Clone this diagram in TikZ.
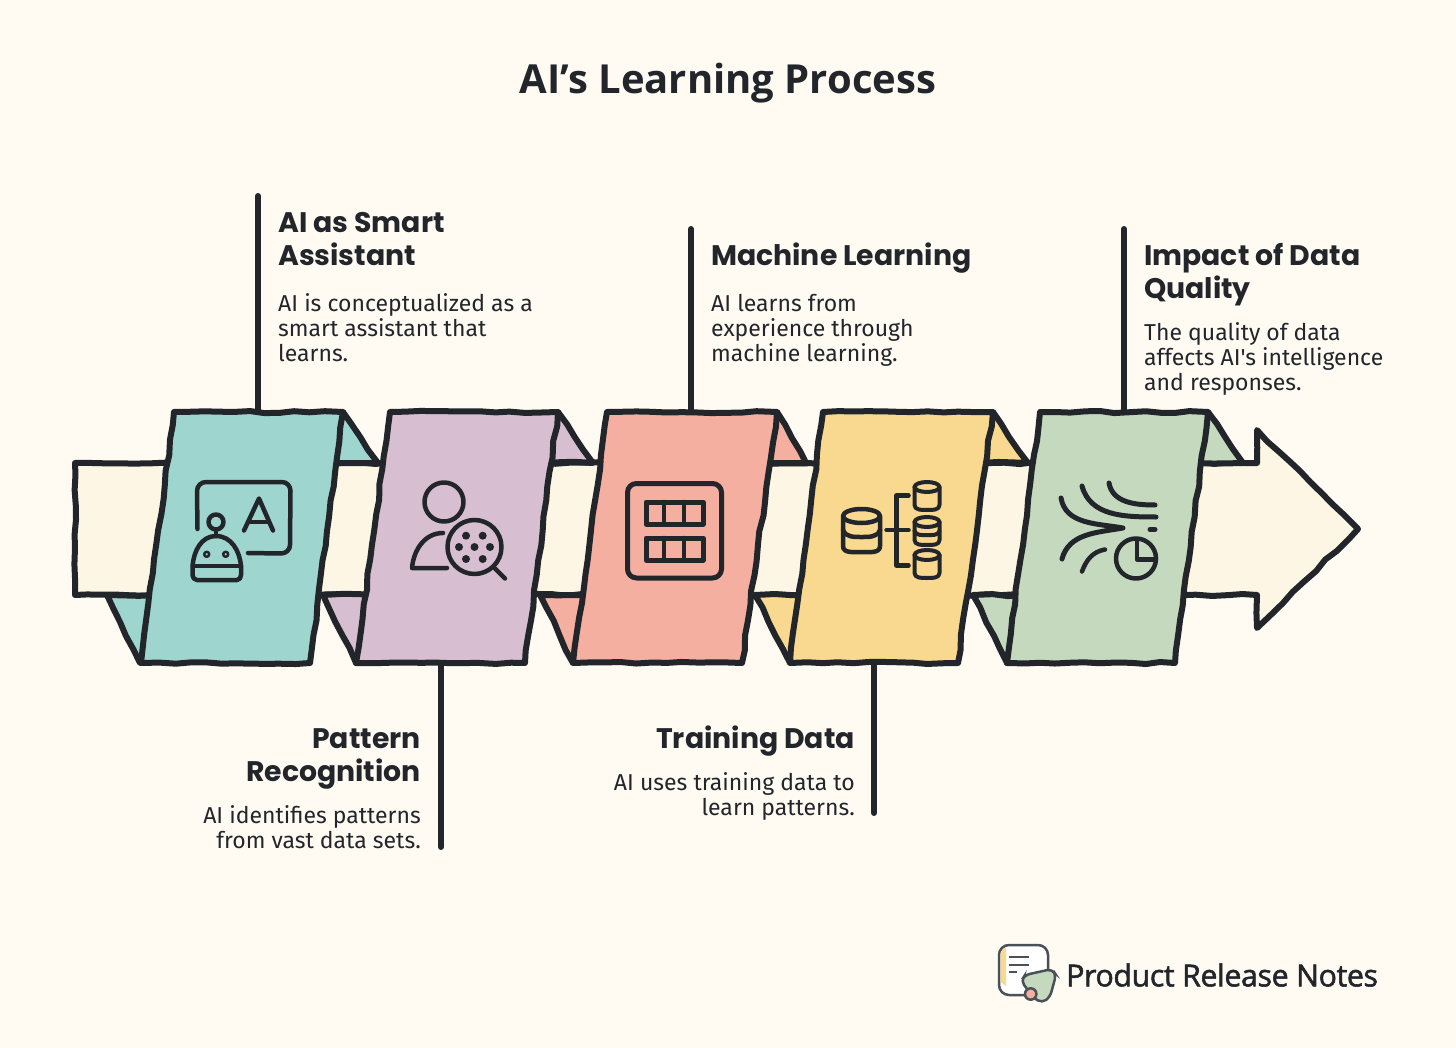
\documentclass[tikz,border=0pt]{standalone}
\usepackage{fontspec}
\setmainfont{Open Sans}
\newfontfamily\headfont{Poppins}
\newfontfamily\notefont{Fira Sans}
\newfontfamily\brandfont[FakeBold=1.8,LetterSpace=-1.2]{Open Sans}
\usetikzlibrary{decorations.pathmorphing}
\definecolor{inkdark}{HTML}{22262B}
\definecolor{paper}{HTML}{FFFBF3}
\definecolor{bandcream}{HTML}{FDF6E5}
\definecolor{panelteal}{HTML}{9FD5CF}
\definecolor{panellilac}{HTML}{D7BFD1}
\definecolor{panelsalmon}{HTML}{F4AFA0}
\definecolor{panelyellow}{HTML}{F9D98F}
\definecolor{panelgreen}{HTML}{C5D9BF}
\definecolor{logoink}{HTML}{4A5058}
\tikzset{
  rough/.style={draw=inkdark, line width=6pt, line join=round, line cap=round, decorate,
    decoration={random steps, segment length=15pt, amplitude=1.1pt}},
  stem/.style={draw=inkdark, line width=6pt, line cap=round},
  glyph/.style={draw=inkdark, line width=4.5pt, line cap=round, line join=round},
  heading/.style={inner sep=0pt, text=inkdark, font=\headfont\bfseries\fontsize{28.3}{33}\selectfont},
  note/.style={inner sep=0pt, text=inkdark, font=\notefont\fontsize{23}{25}\selectfont},
}
\begin{document}
\begin{tikzpicture}[x=1pt, y=-1pt]
  \pgfmathsetseed{11}
  \useasboundingbox (0,0) rectangle (1456,1048);
  \fill[paper] (0,0) rectangle (1456,1048);
  \node[inner sep=0pt, text=inkdark, font=\bfseries\fontsize{40}{48}\selectfont] (title) at (728,83) {AI’s Learning Process};

  % stems behind the band
  \coordinate (stemAtop) at (258,196);
  \coordinate (stemAend) at (258,412);
  \coordinate (stemBtop) at (441,662);
  \coordinate (stemBend) at (441,847);
  \coordinate (stemCtop) at (691,229);
  \coordinate (stemCend) at (691,412);
  \coordinate (stemDtop) at (874,662);
  \coordinate (stemDend) at (874,813);
  \coordinate (stemEtop) at (1124,229);
  \coordinate (stemEend) at (1124,412);
  \draw[stem] (stemAtop) -- (stemAend);
  \draw[stem] (stemBtop) -- (stemBend);
  \draw[stem] (stemCtop) -- (stemCend);
  \draw[stem] (stemDtop) -- (stemDend);
  \draw[stem] (stemEtop) -- (stemEend);

  % band with arrow head
  \path[rough, fill=bandcream] (75,463) -- (1257,463) -- (1257,430) -- (1358,529) -- (1257,628) -- (1257,595) -- (75,595) -- cycle;

  % folds
  \path[rough, fill=panelteal] (343,412) -- (378,463) -- (330,463) -- cycle;
  \path[rough, fill=panelteal] (107,595) -- (140,663) -- (155,595) -- cycle;
  \path[rough, fill=panellilac] (558,412) -- (593,463) -- (545,463) -- cycle;
  \path[rough, fill=panellilac] (323,595) -- (356,663) -- (372,595) -- cycle;
  \path[rough, fill=panelsalmon] (777,412) -- (806,463) -- (764,463) -- cycle;
  \path[rough, fill=panelsalmon] (540,595) -- (573,663) -- (588,595) -- cycle;
  \path[rough, fill=panelyellow] (993,412) -- (1028,463) -- (980,463) -- cycle;
  \path[rough, fill=panelyellow] (755,595) -- (790,663) -- (805,595) -- cycle;
  \path[rough, fill=panelgreen] (1208,412) -- (1243,463) -- (1195,463) -- cycle;
  \path[rough, fill=panelgreen] (973,595) -- (1007,663) -- (1022,595) -- cycle;

  % panels
  \path[rough, fill=panelteal] (174,412) -- (343,412) -- (310,663) -- (141,663) -- cycle;
  \path[rough, fill=panellilac] (390,412) -- (558,412) -- (525,663) -- (356,663) -- cycle;
  \path[rough, fill=panelsalmon] (607,412) -- (777,412) -- (742,663) -- (573,663) -- cycle;
  \path[rough, fill=panelyellow] (823,412) -- (993,412) -- (958,663) -- (790,663) -- cycle;
  \path[rough, fill=panelgreen] (1040,412) -- (1208,412) -- (1175,663) -- (1007,663) -- cycle;

  % robot and board
  \draw[glyph] (197.5,529) -- (197,491) to[out=90, in=180] (206,482) -- (282,482) to[out=0, in=90] (290.5,491) -- (290,545) to[out=-90, in=0] (281,553.5) -- (248,553);
  \draw[glyph] (244,530.5) -- (259,498.5) -- (273,530.5);
  \draw[glyph] (248,522) -- (269,522);
  \draw[glyph] (216,522) circle (7.5);
  \draw[glyph] (216,530) -- (216,536);
  \draw[glyph] (192.5,566) to[out=85, in=180] (216,536) to[out=0, in=95] (241,566) -- (241,575) to[out=-90, in=0] (237,580) -- (197,580) to[out=180, in=-90] (192.5,575) -- cycle;
  \draw[glyph] (193,566) -- (241,566);
  \draw[glyph, line width=2.5pt] (206.7,554.3) circle (2.5);
  \draw[glyph, line width=2.5pt] (225.7,554.3) circle (2.5);

  % person with lens
  \draw[glyph] (444,502) circle (19.5);
  \draw[glyph] (443,533) to[out=180, in=85] (412,568) -- (447,568);
  \draw[glyph] (474.5,547) circle (27);
  \draw[glyph] (495,568.5) -- (505,578.5);
  \fill[inkdark] (466,535.7) circle (4);
  \fill[inkdark] (482.7,535.7) circle (4);
  \fill[inkdark] (459,547) circle (4);
  \fill[inkdark] (474.5,547) circle (4);
  \fill[inkdark] (490,547) circle (4);
  \fill[inkdark] (466,559) circle (4);
  \fill[inkdark] (482.7,559) circle (4);

  % table
  \draw[glyph, line width=5pt, rounded corners=9pt] (627.5,483.5) rectangle (721.5,578);
  \draw[glyph, line width=5pt] (646,502) rectangle (703,524);
  \draw[glyph, line width=5pt] (646,538) rectangle (703,560);
  \draw[glyph] (664,502) -- (664,524);
  \draw[glyph] (684,502) -- (684,524);
  \draw[glyph] (664,538) -- (664,560);
  \draw[glyph] (684,538) -- (684,560);

  % database split
  \draw[glyph] (861.5,516) ellipse (18.5 and 7);
  \draw[glyph] (843,516) -- (843,546) to[out=-90, in=180] (861.5,552) to[out=0, in=-90] (880,546) -- (880,516);
  \draw[glyph] (843,530) to[out=-70, in=180] (861.5,537) to[out=0, in=-110] (880,530);
  \draw[glyph] (908.5,495.5) -- (896.5,495.5) -- (896.5,565.5) -- (908.5,565.5);
  \draw[glyph] (886.5,530) -- (908.5,530);
  \draw[glyph, line width=4pt] (927,487) ellipse (12.5 and 5);
  \draw[glyph, line width=4pt] (914.5,487) -- (914.5,505) to[out=-90, in=180] (927,510) to[out=0, in=-90] (939.5,505) -- (939.5,487);
  \draw[glyph, line width=4pt] (927,522) ellipse (12.5 and 5);
  \draw[glyph, line width=4pt] (914.5,522) -- (914.5,540) to[out=-90, in=180] (927,545) to[out=0, in=-90] (939.5,540) -- (939.5,522);
  \draw[glyph, line width=4pt] (914.5,531) to[out=-70, in=180] (927,535) to[out=0, in=-110] (939.5,531);
  \draw[glyph, line width=4pt] (927,555) ellipse (12.5 and 5);
  \draw[glyph, line width=4pt] (914.5,555) -- (914.5,573) to[out=-90, in=180] (927,578) to[out=0, in=-90] (939.5,573) -- (939.5,555);

  % streams and pie
  \draw[glyph, line width=5pt] (1061,498) to[out=-80, in=170] (1123,528) to[out=190, in=75] (1062,559);
  \draw[glyph, line width=5pt] (1082,486) to[out=-75, in=180] (1156,517);
  \draw[glyph, line width=5pt] (1109,483) to[out=-80, in=180] (1155,505);
  \draw[glyph, line width=5pt] (1150,529.5) -- (1155,529.5);
  \draw[glyph] (1105,549.5) to[out=190, in=70] (1082,571.5);
  \draw[glyph] (1136,558.5) circle (20);
  \draw[glyph] (1137,540) -- (1137,559.5) -- (1155,559.5);

  % labels
  \node[heading, anchor=north west, align=left] (headA) at (278,212) {AI as Smart\\Assistant};
  \node[note, anchor=north west, align=left] (noteA) at (278,293) {AI is conceptualized as a\\smart assistant that\\learns.};
  \node[heading, anchor=north east, align=right] (headB) at (421,728) {Pattern\\Recognition};
  \node[note, anchor=north east, align=right] (noteB) at (421,805) {AI identifies patterns\\from vast data sets.};
  \node[heading, anchor=north west, align=left] (headC) at (711,243) {Machine Learning};
  \node[note, anchor=north west, align=left] (noteC) at (711,294) {AI learns from\\experience through\\machine learning.};
  \node[heading, anchor=north east, align=right] (headD) at (855,726) {Training Data};
  \node[note, anchor=north east, align=right] (noteD) at (855,772) {AI uses training data to\\learn patterns.};
  \node[heading, anchor=north west, align=left] (headE) at (1144,243) {Impact of Data\\Quality};
  \node[note, anchor=north west, align=left] (noteE) at (1144,322) {The quality of data\\affects AI's intelligence\\and responses.};

  % logo
  \draw[logoink, line width=2.5pt, fill=white, rounded corners=10pt] (999,945) rectangle (1048,995);
  \fill[panelyellow] (1000.5,952) -- (1006,947) -- (1006,986) -- (1000.5,982) -- cycle;
  \draw[logoink, line width=2pt] (1009,957) -- (1029,957);
  \draw[logoink, line width=2pt] (1009,964.5) -- (1029,964.5);
  \draw[logoink, line width=2pt] (1009,972) -- (1017,972);
  \draw[logoink, line width=2.5pt, fill=panelgreen, rounded corners=5pt] (1021,981) -- (1025,975) -- (1052,969) -- (1056,975) -- (1050,997) -- (1042,1003) -- (1034,998) -- cycle;
  \draw[logoink, line width=2.5pt, fill=panelsalmon] (1030.7,994) circle (5.7);
  \node[inner sep=0pt, anchor=west, text=inkdark, font=\brandfont\fontsize{30.3}{36}\selectfont] (brand) at (1066,975) {Product Release Notes};
\end{tikzpicture}
\end{document}
